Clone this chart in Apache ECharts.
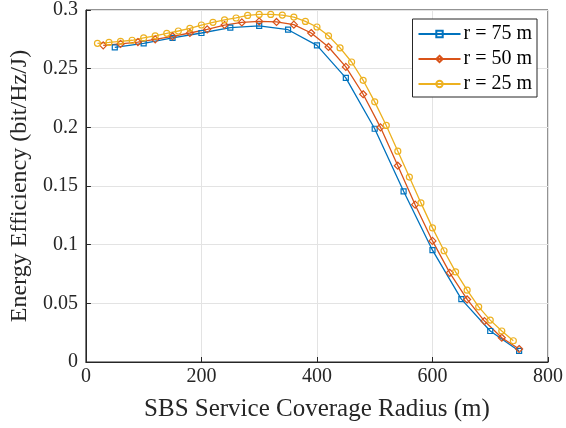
<!DOCTYPE html>
<html>
<head>
<meta charset="utf-8">
<script src="https://cdn.jsdelivr.net/npm/echarts@6/dist/echarts.min.js"></script>
<style>
  html, body { margin: 0; padding: 0; background: #fff; }
  #chart { width: 566px; height: 428px; }
</style>
</head>
<body>
<div id="chart"></div>
<script>
// Coverage radius samples (m) for each small-cell radius
const radius75 = [50, 100, 150, 200, 250, 300, 350, 400, 450, 500, 550, 600, 650, 700, 750];
const radius50 = [30, 60, 90, 120, 150, 180, 210, 240, 270, 300, 330, 360, 390, 420, 450, 480, 510, 540, 570, 600, 630, 660, 690, 720, 750];
const radius25 = [20, 40, 60, 80, 100, 120, 140, 160, 180, 200, 220, 240, 260, 280, 300, 320, 340, 360, 380, 400,
                  420, 440, 460, 480, 500, 520, 540, 560, 580, 600, 620, 640, 660, 680, 700, 720, 740];

// Energy efficiency (bit/Hz/J)
const ee75 = [0.2682, 0.2716, 0.2762, 0.2804, 0.2849, 0.2864, 0.2832, 0.2699, 0.2421, 0.1988, 0.1455, 0.0953, 0.0536, 0.0264, 0.0094];
const ee50 = [0.2699, 0.2711, 0.2727, 0.2750, 0.2776, 0.2804, 0.2835, 0.2872, 0.2894, 0.2903, 0.2898, 0.2875, 0.2804,
              0.2685, 0.2515, 0.2282, 0.2000, 0.1673, 0.1341, 0.1032, 0.0760, 0.0533, 0.0349, 0.0207, 0.0111];
const ee25 = [0.2716, 0.2724, 0.2733, 0.2742, 0.2762, 0.2779, 0.2801, 0.2821, 0.2844, 0.2872, 0.2895, 0.2915, 0.2932,
              0.2954, 0.2962, 0.2962, 0.2957, 0.2940, 0.2903, 0.2855, 0.2780, 0.2677, 0.2557, 0.2401, 0.2217, 0.2016,
              0.1797, 0.1576, 0.1356, 0.1143, 0.0948, 0.0768, 0.0612, 0.0470, 0.0357, 0.0264, 0.0181];

const seriesNames = ['r = 75 m', 'r = 50 m', 'r = 25 m'];
const seriesColors = ['#0072BD', '#D95319', '#EDB120'];

const FONT = 'Liberation Serif';

function pairs(xs, ys) { return xs.map((x, i) => [x, ys[i]]); }

function lineSeries(name, xs, ys, color, symbol, size) {
  return {
    name: name,
    type: 'line',
    data: pairs(xs, ys),
    symbol: symbol,
    symbolSize: size,
    showAllSymbol: true,
    color: color,
    lineStyle: { color: color, width: 1.3 },
    itemStyle: { color: 'rgba(255,255,255,0)', borderColor: color, borderWidth: 1.2 },
    emphasis: { disabled: true },
    animation: false,
    z: 3
  };
}

const chart = echarts.init(document.getElementById('chart'), null, { renderer: 'canvas' });

chart.setOption({
  backgroundColor: '#fff',
  animation: false,
  grid: { left: 85, right: 18, top: 9, bottom: 66, show: true, borderColor: '#262626', borderWidth: 1, backgroundColor: 'transparent' },
  legend: {
    right: 29, top: 19,
    orient: 'vertical',
    backgroundColor: '#fff',
    borderColor: '#262626', borderWidth: 1, borderRadius: 0,
    padding: [5, 5, 3, 5],
    itemGap: 5,
    itemWidth: 42, itemHeight: 8,
    textStyle: { fontFamily: FONT, fontSize: 20, color: '#000', padding: [0, 0, 0, -2] },
    data: seriesNames
  },
  xAxis: {
    type: 'value',
    min: 0, max: 800, interval: 200,
    name: 'SBS Service Coverage Radius (m)',
    nameLocation: 'middle', nameGap: 35,
    nameTextStyle: { fontFamily: FONT, fontSize: 25, color: '#262626' },
    axisLine: { show: true, onZero: false, lineStyle: { color: '#262626', width: 1 } },
    axisTick: { show: true, inside: true, length: 5, lineStyle: { color: '#262626' } },
    axisLabel: { fontFamily: FONT, fontSize: 20, color: '#262626', margin: 5 },
    splitLine: { show: true, lineStyle: { color: '#e3e3e3', width: 1 } }
  },
  yAxis: {
    type: 'value',
    min: 0, max: 0.3, interval: 0.05,
    name: 'Energy Efficiency (bit/Hz/J)',
    nameLocation: 'middle', nameGap: 52,
    nameTextStyle: { fontFamily: FONT, fontSize: 24, color: '#262626' },
    axisLine: { show: true, lineStyle: { color: '#262626', width: 1 } },
    axisTick: { show: true, inside: true, length: 5, lineStyle: { color: '#262626' } },
    axisLabel: { fontFamily: FONT, fontSize: 20, color: '#262626', margin: 8,
                 formatter: v => String(parseFloat(v.toFixed(2))) },
    splitLine: { show: true, lineStyle: { color: '#e3e3e3', width: 1 } }
  },
  series: [
    lineSeries(seriesNames[0], radius75, ee75, seriesColors[0], 'rect', 5),
    lineSeries(seriesNames[1], radius50, ee50, seriesColors[1], 'diamond', 7),
    lineSeries(seriesNames[2], radius25, ee25, seriesColors[2], 'circle', 6)
  ]
});
</script>
</body>
</html>
